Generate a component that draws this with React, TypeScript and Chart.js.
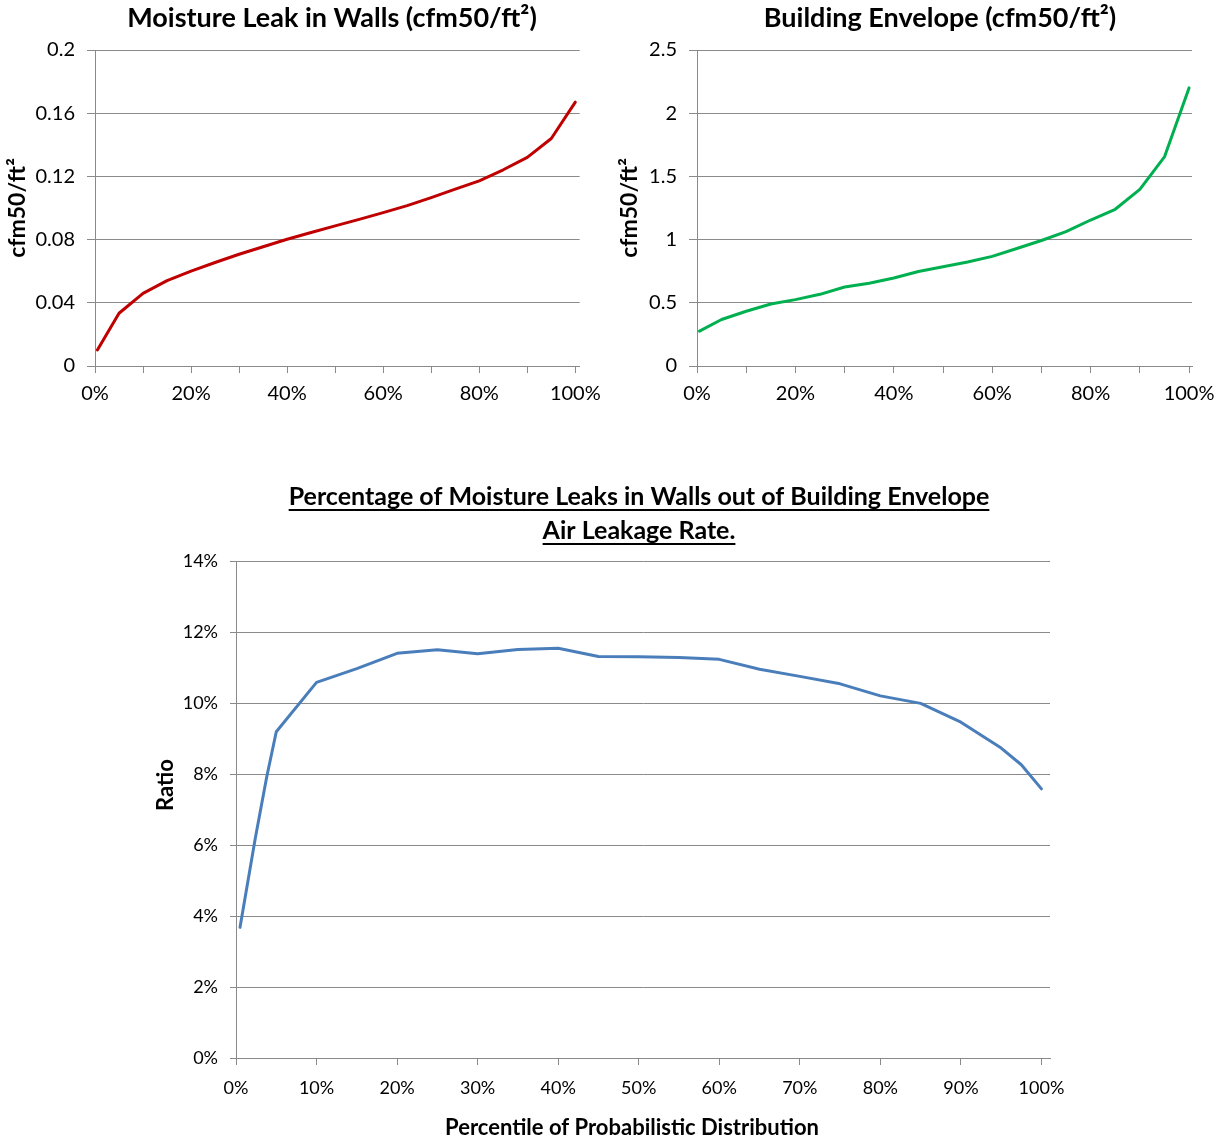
import { useEffect, useRef } from 'react';
import { Chart, registerables } from 'chart.js';

Chart.register(...registerables);

const FONT = 'Lato, "Open Sans", sans-serif';
const GRID = '#8a8a8a';

// Percentile positions of the wall / envelope distributions
const percentileTop = [0.005, 0.05, 0.1, 0.15, 0.2, 0.25, 0.3, 0.35, 0.4, 0.45, 0.5, 0.55, 0.6, 0.65, 0.7, 0.75, 0.8, 0.85, 0.9, 0.95, 1.0];
// Moisture leak in walls, cfm50/ft²
const wallLeak = [0.0101, 0.0334, 0.046, 0.054, 0.06, 0.0655, 0.0707, 0.0755, 0.0802, 0.0845, 0.0887, 0.0928, 0.0971, 0.1015, 0.1066, 0.112, 0.1172, 0.1242, 0.132, 0.144, 0.167];
// Building envelope air leakage, cfm50/ft²
const envelopeLeak = [0.276, 0.368, 0.433, 0.49, 0.525, 0.567, 0.625, 0.655, 0.696, 0.748, 0.785, 0.823, 0.867, 0.93, 0.993, 1.063, 1.155, 1.24, 1.397, 1.654, 2.2];

// Ratio of wall moisture leaks to envelope leakage
const percentileRatio = [0.005, 0.024, 0.038, 0.05, 0.1, 0.15, 0.2, 0.25, 0.3, 0.35, 0.4, 0.45, 0.5, 0.55, 0.6, 0.65, 0.7, 0.75, 0.8, 0.85, 0.9, 0.95, 0.975, 1.0];
const leakRatio = [0.0368, 0.062, 0.079, 0.0919, 0.1058, 0.1097, 0.114, 0.115, 0.1139, 0.1151, 0.1154, 0.1131, 0.113, 0.1128, 0.1123, 0.1095, 0.1075, 0.1054, 0.102, 0.0999, 0.0946, 0.0873, 0.0826, 0.0758];

// Axis ticks
const percentTicks = [0, 0.1, 0.2, 0.3, 0.4, 0.5, 0.6, 0.7, 0.8, 0.9, 1.0];
const wallTicks = [0, 0.04, 0.08, 0.12, 0.16, 0.2];
const envelopeTicks = [0, 0.5, 1, 1.5, 2, 2.5];
const ratioTicks = [0, 0.02, 0.04, 0.06, 0.08, 0.1, 0.12, 0.14];

type Caption = {
  text: string;
  x: number;
  y: number;
  font: string;
  rotate?: number;
  underline?: boolean;
};

function captionPlugin(items: Caption[]) {
  return {
    id: 'captions',
    afterDraw(chart: any) {
      const ctx = chart.ctx as CanvasRenderingContext2D;
      for (const c of items) {
        ctx.save();
        ctx.font = c.font;
        ctx.fillStyle = '#000';
        ctx.textAlign = 'center';
        ctx.textBaseline = 'middle';
        ctx.translate(c.x, c.y);
        if (c.rotate) ctx.rotate(c.rotate);
        ctx.fillText(c.text, 0, 0);
        if (c.underline) {
          const w = ctx.measureText(c.text).width;
          ctx.fillRect(-w / 2, 12, w, 2);
        }
        ctx.restore();
      }
    },
  };
}

type PanelSpec = {
  width: number;
  height: number;
  xs: number[];
  ys: number[];
  color: string;
  xMax: number;
  xLabelEvery: number;
  yTicks: number[];
  yFormat: (v: number) => string;
  area: { left: number; right: number; top: number; bottom: number };
  tickFont: number;
  yTickLen: number;
  yPad: number;
  xPad: number;
  captions: Caption[];
};

function makeChart(canvas: HTMLCanvasElement, s: PanelSpec) {
  const tickFont = { family: FONT, size: s.tickFont };
  return new Chart(canvas, {
    type: 'line',
    data: {
      datasets: [
        {
          data: s.xs.map((x, i) => ({ x, y: s.ys[i] })),
          borderColor: s.color,
          borderWidth: 3,
          pointRadius: 0,
          tension: 0,
          borderJoinStyle: 'round',
          borderCapStyle: 'round',
          fill: false,
        },
      ],
    },
    options: {
      responsive: false,
      animation: false,
      events: [],
      layout: {
        padding: { left: 0, top: s.area.top, right: s.width - s.area.right, bottom: 0 },
      },
      plugins: {
        legend: { display: false },
        tooltip: { enabled: false },
        title: { display: false },
      },
      scales: {
        x: {
          type: 'linear',
          min: 0,
          max: s.xMax,
          afterBuildTicks: (scale: any) => {
            scale.ticks = percentTicks.map((v) => ({ value: v }));
          },
          afterFit: (scale: any) => {
            scale.height = s.height - s.area.bottom;
          },
          ticks: {
            autoSkip: false,
            maxRotation: 0,
            color: '#000',
            font: tickFont,
            padding: s.xPad,
            callback: (v: any) => {
              const p = Math.round(Number(v) * 100);
              return p % s.xLabelEvery === 0 ? `${p}%` : '';
            },
          },
          grid: { drawOnChartArea: false, drawTicks: true, tickLength: 7, color: GRID },
          border: { display: true, color: GRID, width: 1 },
        },
        y: {
          type: 'linear',
          min: s.yTicks[0],
          max: s.yTicks[s.yTicks.length - 1],
          afterBuildTicks: (scale: any) => {
            scale.ticks = s.yTicks.map((v) => ({ value: v }));
          },
          afterFit: (scale: any) => {
            scale.width = s.area.left;
          },
          ticks: {
            color: '#000',
            font: tickFont,
            padding: s.yPad,
            callback: (v: any) => s.yFormat(Number(v)),
          },
          grid: { color: GRID, drawTicks: true, tickLength: s.yTickLen },
          border: { display: true, color: GRID, width: 1 },
        },
      },
    },
    plugins: [captionPlugin(s.captions)],
  } as any);
}

const topTitleFont = `bold 27px ${FONT}`;
const mainTitleFont = `bold 25px ${FONT}`;
const unitTitleFont = `bold 23px ${FONT}`;
const axisTitleFont = `bold 22px ${FONT}`;

const wallPanel: PanelSpec = {
  width: 610,
  height: 420,
  xs: percentileTop,
  ys: wallLeak,
  color: '#C00000',
  xMax: 1.009,
  xLabelEvery: 20,
  yTicks: wallTicks,
  yFormat: (v) => String(Number(v.toFixed(2))),
  area: { left: 95, right: 580, top: 50, bottom: 366 },
  tickFont: 20,
  yTickLen: 8,
  yPad: 12,
  xPad: 9,
  captions: [
    { text: 'Moisture Leak in Walls (cfm50/ft²)', x: 332, y: 18, font: topTitleFont },
    { text: 'cfm50/ft²', x: 18, y: 208, font: unitTitleFont, rotate: -Math.PI / 2 },
  ],
};

const envelopePanel: PanelSpec = {
  width: 618,
  height: 420,
  xs: percentileTop,
  ys: envelopeLeak,
  color: '#00B050',
  xMax: 1.006,
  xLabelEvery: 20,
  yTicks: envelopeTicks,
  yFormat: (v) => String(v),
  area: { left: 87, right: 582, top: 50, bottom: 366 },
  tickFont: 20,
  yTickLen: 8,
  yPad: 12,
  xPad: 9,
  captions: [
    { text: 'Building Envelope (cfm50/ft²)', x: 330, y: 18, font: topTitleFont },
    { text: 'cfm50/ft²', x: 20, y: 208, font: unitTitleFont, rotate: -Math.PI / 2 },
  ],
};

const ratioPanel: PanelSpec = {
  width: 1088,
  height: 671,
  xs: percentileRatio,
  ys: leakRatio,
  color: '#4A7EBB',
  xMax: 1.0106,
  xLabelEvery: 10,
  yTicks: ratioTicks,
  yFormat: (v) => `${Math.round(v * 100)}%`,
  area: { left: 96, right: 910, top: 91, bottom: 588 },
  tickFont: 18,
  yTickLen: 6,
  yPad: 12,
  xPad: 12,
  captions: [
    { text: 'Percentage of Moisture Leaks in Walls out of Building Envelope', x: 499, y: 27, font: mainTitleFont, underline: true },
    { text: 'Air Leakage Rate.', x: 499, y: 61, font: mainTitleFont, underline: true },
    { text: 'Ratio', x: 26, y: 315, font: axisTitleFont, rotate: -Math.PI / 2 },
    { text: 'Percentile of Probabilistic Distribution', x: 492, y: 658, font: axisTitleFont },
  ],
};

function Panel({ spec, left, top }: { spec: PanelSpec; left: number; top: number }) {
  const ref = useRef<HTMLCanvasElement>(null);
  useEffect(() => {
    if (!ref.current) return;
    const chart = makeChart(ref.current, spec);
    return () => chart.destroy();
  }, [spec]);
  return (
    <canvas
      ref={ref}
      width={spec.width}
      height={spec.height}
      style={{ position: 'absolute', left, top, width: spec.width, height: spec.height }}
    />
  );
}

export default function App() {
  return (
    <div
      style={{
        position: 'fixed',
        left: 0,
        top: 0,
        width: 1228,
        height: 1141,
        background: '#fff',
        overflow: 'hidden',
      }}
    >
      <Panel spec={wallPanel} left={0} top={0} />
      <Panel spec={envelopePanel} left={610} top={0} />
      <Panel spec={ratioPanel} left={140} top={470} />
    </div>
  );
}
